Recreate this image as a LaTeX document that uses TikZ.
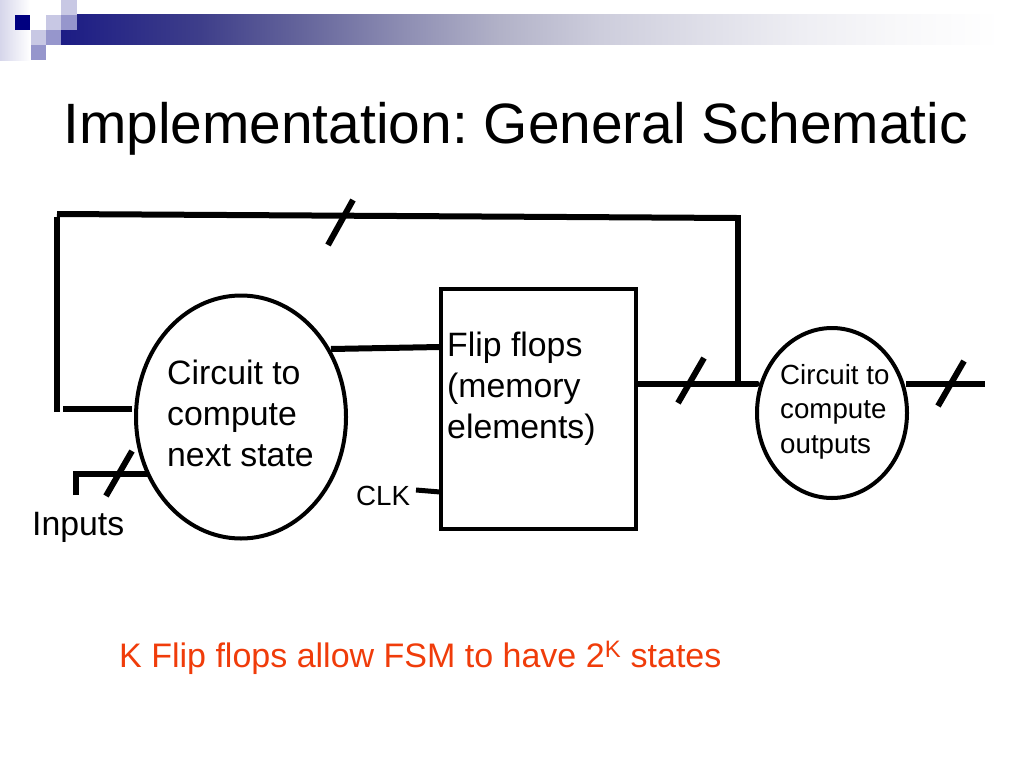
\documentclass[tikz,border=0pt]{standalone}
\usepackage{fontspec}
\usetikzlibrary{shapes.geometric}
\setmainfont{Liberation Sans}
\frenchspacing
\definecolor{bdark}{RGB}{0,0,128}
\definecolor{bmid}{RGB}{150,150,204}
\definecolor{blight}{RGB}{200,200,228}
\definecolor{ored}{RGB}{240,60,10}
\pgfdeclarehorizontalshading{bandshade}{100bp}{
  rgb(0bp)=(0.11,0.11,0.52);
  rgb(25bp)=(0.11,0.11,0.52);
  rgb(32.2bp)=(0.243,0.243,0.541);
  rgb(37.4bp)=(0.392,0.392,0.608);
  rgb(42.6bp)=(0.549,0.549,0.698);
  rgb(47.8bp)=(0.698,0.698,0.784);
  rgb(53bp)=(0.804,0.804,0.863);
  rgb(58.2bp)=(0.871,0.871,0.91);
  rgb(63.4bp)=(0.933,0.933,0.953);
  rgb(68.6bp)=(0.973,0.973,0.98);
  rgb(73.8bp)=(1,1,1);
  rgb(100bp)=(1,1,1)}
\begin{document}
\begin{tikzpicture}[x=1pt,y=-1pt,
  wire/.style={line width=6pt,line cap=butt},
  thinwire/.style={line width=5pt},
  shapeline/.style={draw,line width=4pt,inner sep=0pt},
  lbl/.style={inner sep=0pt,align=left},
  sq/.style={fill=#1,draw=none}]
\useasboundingbox (0,0) rectangle (1024,768);
\fill[white] (0,0) rectangle (1024,768);
% banner
\shade[left color=blight!75!white,right color=white,draw=none] (0,0) rectangle (30,60);
\shade[shading=bandshade,draw=none] (61,15) rectangle (1024,45);
\fill[sq=white] (30,0) rectangle (61,30);
\fill[sq=blight] (61,0) rectangle (77,15);
\fill[sq=bdark] (15,15) rectangle (30,30);
\fill[sq=blight] (46,15) rectangle (61,30);
\fill[sq=bmid] (61,15) rectangle (77,30);
\fill[sq=blight] (31,30) rectangle (46,45);
\fill[sq=bmid] (46,30) rectangle (61,45);
\fill[sq=bmid] (31,45) rectangle (46,60);
% title
\node[lbl,anchor=base west,font=\fontsize{56.9}{60}\selectfont] (title) at (63,143) {Implementation: General Schematic};
% shapes
\node[shapeline,ellipse,minimum width=210pt,minimum height=243pt] (next) at (241,417) {};
\node[shapeline,ellipse,minimum width=150pt,minimum height=170pt] (out) at (832,413) {};
\node[shapeline,rectangle,minimum width=195pt,minimum height=240pt] (ff) at (538.5,409) {};
% text
\node[lbl,anchor=base west,font=\fontsize{33.8}{41}\selectfont] (t1) at (167,466) {Circuit to\\compute\\next state};
\node[lbl,anchor=base west,font=\fontsize{33.8}{41}\selectfont] (t2) at (447,438) {Flip flops\\(memory\\elements)};
\node[lbl,anchor=base west,font=\fontsize{27.7}{34.5}\selectfont] (t3) at (780,453) {Circuit to\\compute\\outputs};
\node[lbl,anchor=base west,font=\fontsize{33.8}{36}\selectfont] (inp) at (32,535) {Inputs};
\node[lbl,anchor=base west,font=\fontsize{27.7}{30}\selectfont] (clk) at (356,505) {CLK};
\node[lbl,anchor=base west,font=\fontsize{34}{36}\selectfont,text=ored] (note) at (119,667) {K Flip flops allow FSM to have 2\textsuperscript{K} states};
% coordinates
\coordinate (a0) at (56.5,412);
\coordinate (a1) at (56.5,217);
\coordinate (a2) at (57,214);
\coordinate (a3) at (737,218);
\coordinate (a4) at (738,215);
\coordinate (a5) at (738,384);
\coordinate (b0) at (63,409);
\coordinate (b1) at (132,409);
\coordinate (c0) at (76,495);
\coordinate (c1) at (76,474);
\coordinate (c2) at (148,474);
\coordinate (d0) at (331,349);
\coordinate (d1) at (440,347);
\coordinate (e0) at (637,383.5);
\coordinate (e1) at (757,383.5);
\coordinate (f0) at (906,383.5);
\coordinate (f1) at (985,383.5);
\coordinate (g0) at (416,490);
\coordinate (g1) at (440,492);
% wires
\draw[wire] (a0) -- (a1);
\draw[wire] (a2) -- (a3);
\draw[wire] (a4) -- (a5);
\draw[wire] (b0) -- (b1);
\draw[wire,line join=miter] (c0) -- (c1) -- (c2);
\draw[wire] (d0) -- (d1);
\draw[wire,line cap=round] (e0) -- (e1);
\draw[wire] (f0) -- (f1);
\draw[thinwire] (g0) -- (g1);
% ticks
\coordinate (k1a) at (328,245); \coordinate (k1b) at (353,200);
\coordinate (k2a) at (678,403); \coordinate (k2b) at (704,358);
\coordinate (k3a) at (938,406); \coordinate (k3b) at (964,361);
\coordinate (k4a) at (106,496); \coordinate (k4b) at (132,451);
\draw[wire] (k1a) -- (k1b);
\draw[wire] (k2a) -- (k2b);
\draw[wire] (k3a) -- (k3b);
\draw[wire] (k4a) -- (k4b);
\end{tikzpicture}
\end{document}
